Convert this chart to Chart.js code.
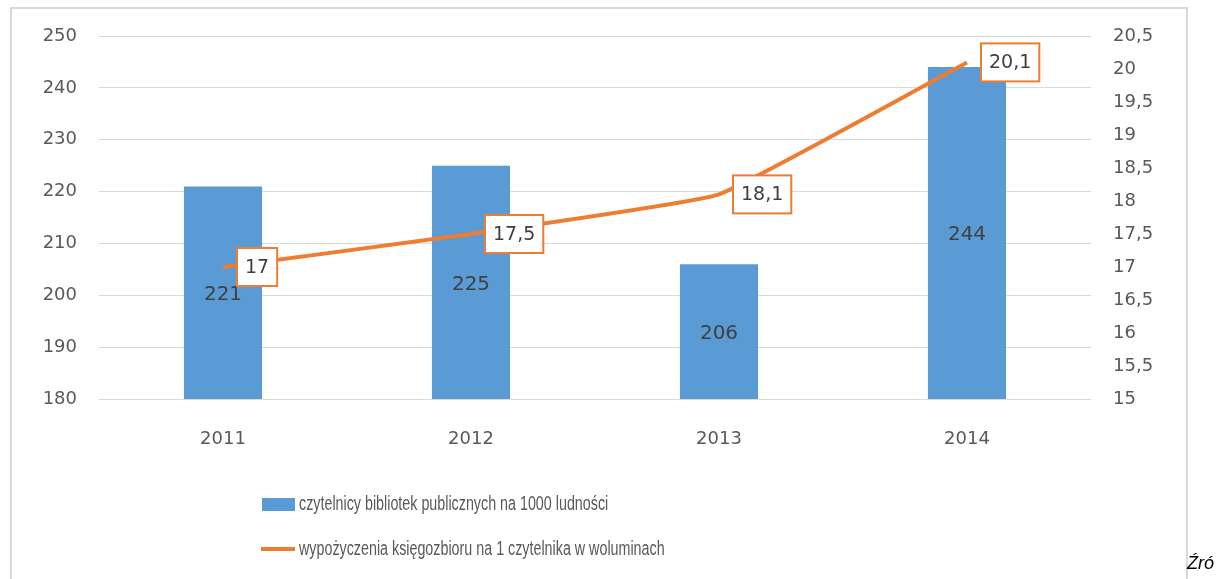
<!DOCTYPE html>
<html>
<head>
<meta charset="utf-8">
<script src="https://cdn.jsdelivr.net/npm/chart.js@4"></script>
<style>
  body { margin: 0; background: #fff; }
  .wrap { position: relative; width: 1219px; height: 579px; overflow: hidden; }
  .frame { position: absolute; left: 10px; top: 7px; width: 1174px; height: 620px; border: 2px solid #d9d9d9; }
  .src { position: absolute; left: 1187px; top: 553px; font: italic 18px 'Liberation Sans', sans-serif; color: #000; }
  canvas { position: absolute; left: 0; top: 0; }
</style>
</head>
<body>
<div class="wrap">
  <div class="frame"></div>
  <canvas id="chart1" width="1219" height="579"></canvas>
  <div class="src">Źró</div>
</div>
<script>
const years = ['2011', '2012', '2013', '2014']
const readers = [221, 225, 206, 244]
const loans = [17, 17.5, 18.1, 20.1]
const readersLabel = 'czytelnicy bibliotek publicznych na 1000 ludności'
const loansLabel = 'wypożyczenia księgozbioru na 1 czytelnika w woluminach'

const blue = '#5b9bd5'
const orange = '#ed7d31'
const textGrey = '#595959'
const labelDark = '#404040'
const tickFont = { size: 18, family: 'DejaVu Sans' }

const fmt = v => String(v).replace('.', ',')

const labelsPlugin = {
  id: 'labels',
  afterDatasetsDraw(chart) {
    const ctx = chart.ctx
    const xs = chart.scales.x
    const ys = chart.scales.y
    const ys1 = chart.scales.y1
    ctx.save()

    // bar values, centred in the bar
    ctx.font = '20px "DejaVu Sans", sans-serif'
    ctx.fillStyle = labelDark
    ctx.textAlign = 'center'
    ctx.textBaseline = 'middle'
    readers.forEach((v, i) => {
      const top = ys.getPixelForValue(v)
      const bottom = ys.getPixelForValue(ys.min)
      ctx.fillText(fmt(v), xs.getPixelForValue(i), (top + bottom) / 2 + 2)
    })

    // line values in framed boxes right of the point
    ctx.font = '19px "DejaVu Sans", sans-serif'
    loans.forEach((v, i) => {
      const px = xs.getPixelForValue(i)
      const py = ys1.getPixelForValue(v)
      const txt = fmt(v)
      const w = ctx.measureText(txt).width + 16
      const h = 38
      const x = px + 14
      const y = py - h / 2
      ctx.fillStyle = '#fff'
      ctx.fillRect(x, y, w, h)
      ctx.strokeStyle = orange
      ctx.lineWidth = 2
      ctx.strokeRect(x, y, w, h)
      ctx.fillStyle = labelDark
      ctx.fillText(txt, x + w / 2, py + 1)
    })

    ctx.restore()
  },
  afterDraw(chart) {
    // vertical legend under the plot, condensed text
    const ctx = chart.ctx
    const drawText = (txt, x, y) => {
      ctx.save()
      ctx.translate(x, y)
      ctx.scale(0.715, 1)
      ctx.fillText(txt, 0, 0)
      ctx.restore()
    }
    ctx.save()
    ctx.font = '20px "Liberation Sans", sans-serif'
    ctx.textBaseline = 'middle'
    ctx.textAlign = 'left'

    ctx.fillStyle = blue
    ctx.fillRect(262, 498, 33, 13)
    ctx.fillStyle = textGrey
    drawText(chart.data.datasets[1].label, 299, 504)

    ctx.strokeStyle = orange
    ctx.lineWidth = 4
    ctx.beginPath()
    ctx.moveTo(261, 549)
    ctx.lineTo(295, 549)
    ctx.stroke()
    drawText(chart.data.datasets[0].label, 299, 549)
    ctx.restore()
  }
}

new Chart('chart1', {
  data: {
    labels: years,
    datasets: [
      {
        type: 'line',
        label: loansLabel,
        data: loans,
        yAxisID: 'y1',
        borderColor: orange,
        borderWidth: 4,
        pointRadius: 0,
        tension: 0.1,
        order: 0
      },
      {
        type: 'bar',
        label: readersLabel,
        data: readers,
        yAxisID: 'y',
        backgroundColor: blue,
        barPercentage: 0.315,
        categoryPercentage: 1,
        order: 1
      }
    ]
  },
  options: {
    responsive: false,
    animation: false,
    layout: { padding: { top: 36, left: 0, right: 0, bottom: 0 } },
    plugins: {
      legend: { display: false },
      tooltip: { enabled: false }
    },
    scales: {
      x: {
        grid: { display: false },
        border: { display: false },
        ticks: { color: textGrey, font: tickFont, padding: 22 },
        afterFit: s => { s.height = 180 }
      },
      y: {
        position: 'left',
        min: 180,
        max: 250,
        ticks: { stepSize: 10, color: textGrey, font: tickFont, padding: 22 },
        grid: { color: '#d9d9d9', lineWidth: 1, drawTicks: false },
        border: { display: false },
        afterFit: s => { s.width = 99 }
      },
      y1: {
        position: 'right',
        min: 15,
        max: 20.5,
        ticks: { stepSize: 0.5, color: textGrey, font: tickFont, padding: 22, callback: v => fmt(v) },
        grid: { display: false, drawTicks: false },
        border: { display: false },
        afterFit: s => { s.width = 128 }
      }
    }
  },
  plugins: [labelsPlugin]
})
</script>
</body>
</html>
